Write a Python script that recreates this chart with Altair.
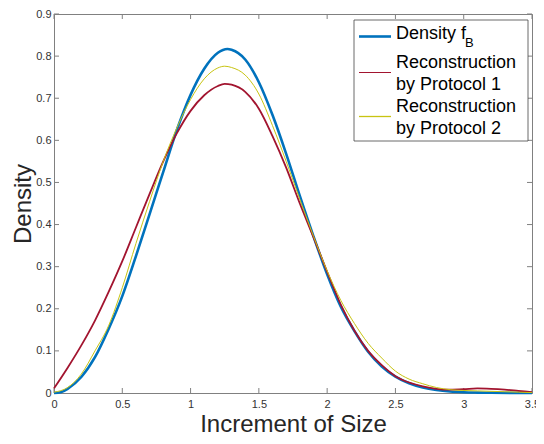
import altair as alt
import pandas as pd

# ---- data ----
x_blue = [0.0, 0.05, 0.1, 0.2, 0.3, 0.4, 0.5, 0.6, 0.7, 0.8, 0.9, 1.0, 1.1, 1.2, 1.27, 1.3, 1.4, 1.5, 1.6, 1.7,
          1.8, 1.9, 2.0, 2.1, 2.2, 2.3, 2.4, 2.5, 2.6, 2.7, 2.8, 2.9, 3.0, 3.1, 3.2, 3.5]
y_blue = [0.0, 0.002, 0.01, 0.038, 0.085, 0.152, 0.23, 0.325, 0.425, 0.525, 0.625, 0.708, 0.77, 0.808, 0.817, 0.815,
          0.792, 0.738, 0.66, 0.568, 0.468, 0.372, 0.282, 0.205, 0.147, 0.098, 0.063, 0.039, 0.023, 0.013, 0.007,
          0.0035, 0.0018, 0.001, 0.0005, 0.0]

x_red = [0.0, 0.1, 0.2, 0.3, 0.4, 0.5, 0.6, 0.7, 0.8, 0.9, 1.0, 1.1, 1.2, 1.25, 1.3, 1.4, 1.5, 1.6, 1.7, 1.8,
         1.9, 2.0, 2.1, 2.2, 2.3, 2.4, 2.5, 2.6, 2.7, 2.8, 2.9, 3.0, 3.1, 3.2, 3.3, 3.4, 3.5]
y_red = [0.011, 0.06, 0.113, 0.172, 0.24, 0.313, 0.393, 0.473, 0.55, 0.617, 0.67, 0.707, 0.729, 0.734, 0.732,
         0.715, 0.675, 0.61, 0.535, 0.45, 0.37, 0.288, 0.21, 0.148, 0.1, 0.066, 0.04, 0.025, 0.016, 0.01, 0.008,
         0.009, 0.011, 0.01, 0.008, 0.005, 0.002]

x_yel = [0.0, 0.1, 0.2, 0.3, 0.4, 0.5, 0.6, 0.7, 0.8, 0.9, 1.0, 1.1, 1.2, 1.25, 1.3, 1.4, 1.5, 1.6, 1.7, 1.8,
         1.9, 2.0, 2.1, 2.2, 2.3, 2.4, 2.5, 2.6, 2.7, 2.8, 2.9, 3.0, 3.1, 3.2, 3.3, 3.4, 3.5]
y_yel = [0.002, 0.013, 0.045, 0.1, 0.16, 0.25, 0.355, 0.455, 0.55, 0.63, 0.697, 0.746, 0.772, 0.776, 0.773,
         0.755, 0.71, 0.635, 0.55, 0.46, 0.372, 0.29, 0.22, 0.165, 0.118, 0.083, 0.052, 0.033, 0.022, 0.013,
         0.008, 0.006, 0.005, 0.004, 0.003, 0.002, 0.001]

series_keys = ["s1", "s2", "s3"]
series_colors = ["#0072BD", "#A2142F", "#C8C412"]
series_widths = [2.6, 1.0, 1.3]

legend_lines = ["Density f", "Reconstruction", "by Protocol 1", "Reconstruction", "by Protocol 2"]
legend_sub = "B"

x_ticks = [0, 0.5, 1, 1.5, 2, 2.5, 3, 3.5]
y_ticks = [0, 0.1, 0.2, 0.3, 0.4, 0.5, 0.6, 0.7, 0.8, 0.9]

# ---- layout (whole svg 528 x 428) ----
W, H = 478, 379
FONT = "Liberation Sans"
GRAY = "#808080"

rows = []
for key, xs, ys in [("s1", x_blue, y_blue), ("s2", x_red, y_red), ("s3", x_yel, y_yel)]:
    for i, (a, b) in enumerate(zip(xs, ys)):
        rows.append({"series": key, "x": a, "y": b, "i": i})
df = pd.DataFrame(rows)

xscale = alt.Scale(domain=[0, 3.5], nice=False, zero=False)
yscale = alt.Scale(domain=[0, 0.9], nice=False)

axis_common = dict(domainColor=GRAY, domainWidth=1, ticks=False, grid=False, labelFlush=False,
                   labelFont=FONT, labelFontSize=11, labelColor="#333333",
                   titleFont=FONT, titleFontSize=24, titleColor="#262626", titleFontWeight="normal",
                   titleBaseline="alphabetic", format="~g")

lines = alt.Chart(df).mark_line(interpolate="monotone").encode(
    x=alt.X("x:Q", scale=xscale, title="Increment of Size",
            axis=alt.Axis(values=x_ticks, labelPadding=5, titleY=38, **axis_common)),
    y=alt.Y("y:Q", scale=yscale, title="Density",
            axis=alt.Axis(values=y_ticks, labelPadding=3, titleX=-24, **axis_common)),
    color=alt.Color("series:N", scale=alt.Scale(domain=series_keys, range=series_colors), legend=None),
    strokeWidth=alt.StrokeWidth("series:N", scale=alt.Scale(domain=series_keys, range=series_widths),
                                legend=None),
    order="i:Q",
)

# inward ticks on all four sides (MATLAB box style)
xt = pd.DataFrame({"v": x_ticks})
yt = pd.DataFrame({"v": y_ticks})
xb = alt.Chart(xt).mark_rule(color=GRAY).encode(
    x=alt.X("v:Q", scale=xscale), y=alt.value(H), y2=alt.value(H - 5))
xtop = alt.Chart(xt).mark_rule(color=GRAY).encode(
    x=alt.X("v:Q", scale=xscale), y=alt.value(0), y2=alt.value(5))
yl = alt.Chart(yt).mark_rule(color=GRAY).encode(
    y=alt.Y("v:Q", scale=yscale), x=alt.value(0), x2=alt.value(5))
yr = alt.Chart(yt).mark_rule(color=GRAY).encode(
    y=alt.Y("v:Q", scale=yscale), x=alt.value(W), x2=alt.value(W - 5))

# ---- legend box (guide, placed in pixel space) ----
one = pd.DataFrame({"k": [0]})
LX0, LX1, LY0, LY1 = 300, 474, 6, 127
box = alt.Chart(one).mark_rect(fill="white", stroke="#444444", strokeWidth=0.8).encode(
    x=alt.value(LX0), x2=alt.value(LX1), y=alt.value(LY0), y2=alt.value(LY1))
legend_layers = [box]
sym_y = [22.5, 58.5, 102.5]
for c, w, yy in zip(series_colors, series_widths, sym_y):
    legend_layers.append(alt.Chart(one).mark_rule(color=c, strokeWidth=w).encode(
        x=alt.value(LX0 + 5), x2=alt.value(LX0 + 37), y=alt.value(yy)))
text_y = [19.5, 49, 71, 93, 114.5]
for t, yy in zip(legend_lines, text_y):
    legend_layers.append(alt.Chart(one).mark_text(
        text=t, font=FONT, fontSize=18, align="left", baseline="middle", color="#000000").encode(
        x=alt.value(LX0 + 42), y=alt.value(yy)))
legend_layers.append(alt.Chart(one).mark_text(
    text=legend_sub, font=FONT, fontSize=13, align="left", baseline="middle", color="#000000").encode(
    x=alt.value(LX0 + 111), y=alt.value(29)))

chart = alt.layer(xb, xtop, yl, yr, lines, *legend_layers).properties(
    width=W, height=H,
    padding={"left": 46, "top": 6, "right": 4, "bottom": 43},
    autosize=alt.AutoSizeParams(type="none"),
).configure_view(stroke=GRAY, strokeWidth=1)

chart.save("out.html", embed_options={"renderer": "svg", "actions": False})
